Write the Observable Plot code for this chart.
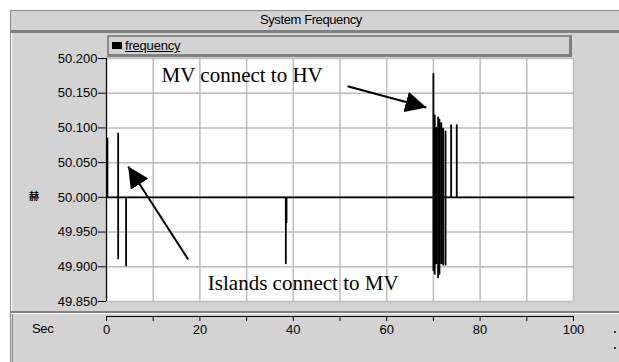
<!DOCTYPE html>
<html><head><meta charset="utf-8">
<script src="https://cdn.jsdelivr.net/npm/d3@7"></script>
<script src="https://cdn.jsdelivr.net/npm/@observablehq/plot@0.6"></script>
<style>
html,body{margin:0;padding:0;background:#fff;}
#root{position:relative;width:619px;height:362px;overflow:hidden;font-family:"Liberation Sans",Arial,sans-serif;color:#000;}
.abs{position:absolute;}
</style></head><body>
<div id="root">
  <div class="abs" style="left:10px;top:10px;width:609px;height:352px;background:#d3d3d3;border-left:1px solid #8a8a8a;border-top:1px solid #8a8a8a;box-sizing:border-box"></div>
  <div class="abs" id="title" style="left:11px;top:12px;width:600px;text-align:center;font-size:13px;letter-spacing:-0.4px;"></div>
  <div class="abs" style="left:11px;top:30px;width:608px;height:3px;background:#808080"></div>
  <div class="abs" style="left:11px;top:33px;width:1px;height:278px;background:#fff"></div>
  <div class="abs" style="left:11px;top:311px;width:608px;height:2px;background:#808080"></div>
  <div class="abs" style="left:11px;top:313px;width:608px;height:1px;background:#fff"></div>
  <div class="abs" style="left:12px;top:314px;width:1px;height:48px;background:#8a8a8a"></div>
  <div class="abs" id="legend" style="left:107px;top:35px;width:465px;height:22px;background:#d3d3d3;border-top:2px solid #8a8a8a;border-left:2px solid #8a8a8a;border-right:3px solid #808080;border-bottom:3px solid #808080;box-sizing:border-box;">
    <div class="abs" style="left:3px;top:5px;width:10px;height:7px;background:#000"></div>
    <div class="abs" id="legText" style="left:16px;top:1px;font-size:13px;text-decoration:underline;letter-spacing:-0.2px;"></div>
  </div>
  <div class="abs" id="ylab" style="left:29px;top:190px;font-size:10px;font-weight:bold;font-family:'Noto Sans CJK SC';line-height:12px;"></div>
  <div class="abs" id="secLab" style="left:32px;top:321px;font-size:13px;letter-spacing:-0.3px;"></div>
  <div class="abs" style="left:614px;top:331px;width:2px;height:2px;background:#333"></div>
  <div class="abs" style="left:614px;top:347px;width:2px;height:2px;background:#333"></div>
  <div class="abs" id="plot1" style="left:0;top:0;"></div>
  <div class="abs" id="plot2" style="left:0;top:313px;"></div>
</div>
<script>
// ---- data ----
const chartTitle = "System Frequency";
const seriesName = "frequency";
const xAxisName = "Sec";
const yAxisName = "赫";
const xDomain = [0, 100];
const yDomain = [49.85, 50.2];
const xGridTicks = [0, 10, 20, 30, 40, 50, 60, 70, 80, 90, 100];
const xLabelTicks = [0, 20, 40, 60, 80, 100];
const yTicks = [49.85, 49.9, 49.95, 50.0, 50.05, 50.1, 50.15, 50.2];
const nominal = 50.0;
// spikes: time (s), max and min frequency reached
const spikeTimes = [0.2, 2.5, 4.2, 38.4, 38.55, 70.0, 70.3, 70.6, 71.0, 71.3, 71.7, 72.1, 72.6, 73.8, 75.0];
const spikeHighs = [50.085, 50.092, 50.0, 50.0, 50.0, 50.178, 50.118, 50.100, 50.115, 50.112, 50.107, 50.099, 50.095, 50.104, 50.104];
const spikeLows  = [50.0, 49.912, 49.902, 49.905, 49.964, 49.895, 49.890, 49.905, 49.885, 49.890, 49.905, 49.903, 49.903, 50.0, 50.0];
// annotations
const noteTexts = ["MV connect to HV", "Islands connect to MV"];
const noteX = [11.8, 21.7];
const noteY = [50.1655, 49.8672];
const arrowX1 = [51.6, 17.5];
const arrowY1 = [50.160, 49.9106];
const arrowX2 = [68.5, 4.65];
const arrowY2 = [50.1295, 50.0445];

// ---- build tables ----
const lineData = [{t: xDomain[0], f: nominal}];
spikeTimes.forEach((t, i) => {
  lineData.push({t, f: nominal}, {t, f: spikeHighs[i]}, {t, f: spikeLows[i]}, {t, f: nominal});
});
lineData.push({t: xDomain[1], f: nominal});
const notes = noteTexts.map((text, i) => ({text, x: noteX[i], y: noteY[i]}));
const arrows = arrowX1.map((x1, i) => ({x1, y1: arrowY1[i], x2: arrowX2[i], y2: arrowY2[i]}));

document.getElementById("title").textContent = chartTitle;
document.getElementById("legText").textContent = seriesName;
document.getElementById("secLab").textContent = xAxisName;
document.getElementById("ylab").textContent = yAxisName;

const gridStyle = {stroke: "#bcbcbc", strokeOpacity: 1, strokeWidth: 1.5};
const p1 = Plot.plot({
  width: 619, height: 312,
  marginLeft: 106, marginRight: 46, marginTop: 58, marginBottom: 11,
  style: {background: "transparent", overflow: "visible", fontFamily: "'Liberation Sans', Arial, sans-serif", fontSize: "13px", color: "#000"},
  x: {domain: xDomain, axis: null},
  y: {domain: yDomain, axis: null},
  marks: [
    Plot.frame({fill: "white", stroke: null}),
    Plot.gridX(xGridTicks, gridStyle),
    Plot.gridY(yTicks, gridStyle),
    Plot.ruleX([xDomain[0]], {stroke: "#000", strokeWidth: 1.2}),
    Plot.axisY(yTicks, {tickFormat: d3.format(".3f"), tickSize: 8, tickPadding: 1, fontSize: 13, stroke: "#000", fill: "#000"}),
    Plot.line(lineData, {x: "t", y: "f", stroke: "#000", strokeWidth: 1.8}),
    Plot.text(notes, {x: "x", y: "y", text: "text", textAnchor: "start", lineAnchor: "bottom", fontFamily: "'Liberation Serif', 'Times New Roman', serif", fontSize: 21, fill: "#000"}),
    Plot.link(arrows, {x1: "x1", y1: "y1", x2: "x2", y2: "y2", stroke: "#000", strokeWidth: 2, ariaLabel: "annot-arrow"})
  ]
});
document.getElementById("plot1").appendChild(p1);
// filled arrowheads
const svgNS = "http://www.w3.org/2000/svg";
const defs = document.createElementNS(svgNS, "defs");
const marker = document.createElementNS(svgNS, "marker");
marker.setAttribute("id", "ahead");
marker.setAttribute("viewBox", "0 0 10 10");
marker.setAttribute("refX", "10");
marker.setAttribute("refY", "5");
marker.setAttribute("markerUnits", "userSpaceOnUse");
marker.setAttribute("markerWidth", "21");
marker.setAttribute("markerHeight", "21");
marker.setAttribute("orient", "auto");
const mp = document.createElementNS(svgNS, "path");
mp.setAttribute("d", "M0,0L10,5L0,10Z");
mp.setAttribute("fill", "#000");
marker.appendChild(mp);
defs.appendChild(marker);
p1.insertBefore(defs, p1.firstChild);
p1.querySelectorAll('g[aria-label="annot-arrow"] path, g[aria-label="link"] path').forEach(p => p.setAttribute("marker-end", "url(#ahead)"));

const p2 = Plot.plot({
  width: 619, height: 49,
  marginLeft: 106, marginRight: 46, marginTop: 0, marginBottom: 46,
  style: {background: "transparent", overflow: "visible", fontFamily: "'Liberation Sans', Arial, sans-serif", fontSize: "13px", color: "#000"},
  x: {domain: xDomain},
  y: {domain: [0, 1], axis: null},
  marks: [
    Plot.ruleY([0], {stroke: "#000", strokeWidth: 1.2}),
    Plot.axisX(xGridTicks, {tickSize: 5, tickPadding: 3, fontSize: 13, stroke: "#000", fill: "#000", tickFormat: d => xLabelTicks.includes(d) ? String(d) : ""})
  ]
});
document.getElementById("plot2").appendChild(p2);
</script>
</body></html>
